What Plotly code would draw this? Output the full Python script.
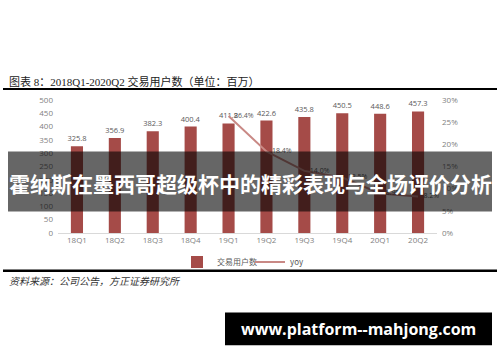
import plotly.graph_objects as go

W, H = 500, 362

quarters = ["18Q1", "18Q2", "18Q3", "18Q4", "19Q1", "19Q2", "19Q3", "19Q4", "20Q1", "20Q2"]
users = [325.8, 356.9, 382.3, 400.4, 411.8, 422.6, 435.8, 450.5, 448.6, 457.3]
yoy_quarters = ["19Q1", "19Q2", "19Q3", "19Q4", "20Q1", "20Q2"]
yoy = [26.4, 18.4, 14.0, 12.5, 8.9, 8.2]

left_ticks = [0, 50, 100, 150, 200, 250, 300, 350, 400, 450, 500]
right_ticks = [0, 5, 10, 15, 20, 25, 30]

title_text = "图表 8：2018Q1-2020Q2 交易用户数（单位：百万）"
source_text = "资料来源：公司公告，方正证券研究所"
overlay_text = "霍纳斯在墨西哥超级杯中的精彩表现与全场评价分析"
watermark_text = "www.platform--mahjong.com"

BAR = "#a54b48"
LINE = "#c98985"
TICK = "#7f7f7f"

def px(x):
    return x / W

def py(y):
    return (H - y) / H

fig = go.Figure()
fig.add_trace(go.Bar(
    x=quarters, y=users, name="交易用户数",
    marker=dict(color=BAR, line=dict(width=0)),
    text=[f"{v:.1f}" for v in users], textposition="outside", constraintext="none",
    textfont=dict(size=7.5, color="#595959", family="Open Sans"),
    cliponaxis=False,
))
fig.add_trace(go.Scatter(
    x=yoy_quarters, y=yoy, name="yoy", yaxis="y2", mode="lines+text",
    line=dict(color=LINE, width=2),
    text=[f"\u00a0\u00a0\u00a0{v:.1f}%" for v in yoy], textposition="middle right",
    textfont=dict(size=7, color="#595959", family="Open Sans"),
    cliponaxis=False,
))

fig.update_layout(
    width=W, height=H, margin=dict(l=0, r=0, t=0, b=0),
    paper_bgcolor="white", plot_bgcolor="white",
    font=dict(family="Open Sans, Noto Sans CJK SC", size=8, color=TICK),
    bargap=0.68,
    showlegend=True,
    legend=dict(orientation="h", x=0.5, xanchor="center", y=py(264), yanchor="middle",
                font=dict(size=8, color="#595959", family="Noto Sans CJK SC"),
                bgcolor="rgba(0,0,0,0)", itemwidth=30, entrywidth=28, entrywidthmode="pixels"),
    xaxis=dict(domain=[px(58), px(437)], categoryorder="array", categoryarray=quarters,
               showline=True, linecolor="#d9d9d9", linewidth=1, ticks="",
               tickfont=dict(size=8, color=TICK), showgrid=False, fixedrange=True),
    yaxis=dict(domain=[py(234), py(97)], range=[0, 500], tickvals=left_ticks,
               showgrid=False, zeroline=False, ticks="", ticklabelstandoff=4,
               tickfont=dict(size=8, color=TICK)),
    yaxis2=dict(overlaying="y", side="right", range=[0, 30], tickvals=right_ticks,
                ticktext=[f"{v}%" for v in right_ticks], showgrid=False, zeroline=False,
                ticks="", ticklabelstandoff=4, tickfont=dict(size=8, color=TICK),
                anchor="x"),
)

shapes = [
    dict(type="line", xref="paper", yref="paper", x0=px(3), x1=px(497), y0=py(85.5), y1=py(85.5),
         line=dict(color="black", width=2)),
    dict(type="line", xref="paper", yref="paper", x0=px(3), x1=px(497), y0=py(273), y1=py(273),
         line=dict(color="black", width=2.5)),
    dict(type="rect", xref="paper", yref="paper", x0=px(8), x1=px(492), y0=py(212), y1=py(150),
         fillcolor="rgba(0,0,0,0.6)", line=dict(width=0), layer="above"),
    dict(type="rect", xref="paper", yref="paper", x0=px(225), x1=px(492), y0=py(350), y1=py(316),
         fillcolor="black", line=dict(width=0), layer="above"),
]
fig.update_layout(shapes=shapes)

annotations = [
    dict(text=title_text, xref="paper", yref="paper", x=px(7), y=py(78), xanchor="left",
         yanchor="middle", showarrow=False,
         font=dict(size=11, color="#222222", family="Liberation Serif, Noto Sans CJK SC")),
    dict(text=source_text, xref="paper", yref="paper", x=px(7), y=py(283), xanchor="left",
         yanchor="middle", showarrow=False,
         font=dict(size=10, color="#333333", family="Noto Sans CJK SC", style="italic")),
    dict(text=f"<b>{overlay_text}</b>", xref="paper", yref="paper", x=px(250), y=py(183),
         xanchor="center", yanchor="middle", showarrow=False,
         font=dict(size=21, color="white", family="Noto Sans CJK SC")),
    dict(text=f"<b>{watermark_text}</b>", xref="paper", yref="paper", x=px(358), y=py(333),
         xanchor="center", yanchor="middle", showarrow=False,
         font=dict(size=16, color="white", family="Open Sans")),
]
fig.update_layout(annotations=annotations)

fig.write_html("out.html")
